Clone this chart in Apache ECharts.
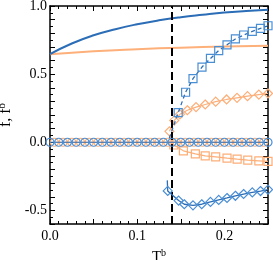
<!DOCTYPE html>
<html><head><meta charset="utf-8">
<script src="https://cdn.jsdelivr.net/npm/echarts@6/dist/echarts.min.js"></script>
<style>html,body{margin:0;padding:0;background:#fff}#c{width:273px;height:260px}</style>
</head><body><div id="c"></div>
<script>
// ---- data ----
const fX = [0, 0.025, 0.05, 0.075, 0.1, 0.125, 0.15, 0.175, 0.2, 0.225, 0.25];
const fBlue = [0.647, 0.725, 0.785, 0.83, 0.866, 0.895, 0.918, 0.936, 0.952, 0.963, 0.972];
const fOrX = [0, 0.05, 0.1, 0.15, 0.2, 0.25];
const fOrange = [0.645, 0.668, 0.683, 0.694, 0.702, 0.708];

const circBlueX = [0,0.01,0.02,0.03,0.04,0.05,0.06,0.07,0.08,0.09,0.10,0.11,0.12,0.13,0.14,0.15,0.16,0.17,0.18,0.19,0.20,0.21,0.22,0.23,0.24,0.25];
const circOrX = [0.005,0.015,0.025,0.035,0.045,0.055,0.065,0.075,0.085,0.095,0.105,0.115,0.125,0.135,0.145,0.155,0.165,0.175,0.185,0.195,0.205,0.215,0.225,0.235,0.245];

const sqBlueX = [0.1368, 0.147, 0.1555, 0.164, 0.1743, 0.184, 0.1935, 0.203, 0.2126, 0.222, 0.232, 0.2414, 0.25];
const sqBlueY = [0.03, 0.217, 0.367, 0.467, 0.552, 0.615, 0.673, 0.715, 0.758, 0.787, 0.814, 0.836, 0.855];

const diOrX = [0.137, 0.1425, 0.149, 0.1575, 0.1675, 0.178, 0.19, 0.2025, 0.2145, 0.2265, 0.2395, 0.25];
const diOrY = [0.08, 0.16, 0.205, 0.235, 0.258, 0.277, 0.298, 0.314, 0.326, 0.338, 0.35, 0.358];

const sqOrX = [0.1368, 0.142, 0.153, 0.1667, 0.178, 0.19, 0.203, 0.2146, 0.2268, 0.2395, 0.25];
const sqOrY = [0.05, -0.02, -0.063, -0.085, -0.1, -0.107, -0.117, -0.124, -0.131, -0.136, -0.14];

const diBlueX = [0.1345, 0.135, 0.1475, 0.154, 0.164, 0.174, 0.184, 0.1935, 0.203, 0.2126, 0.222, 0.232, 0.2414, 0.25];
const diBlueY = [-0.28, -0.357, -0.428, -0.455, -0.463, -0.455, -0.438, -0.423, -0.409, -0.393, -0.38, -0.368, -0.358, -0.348];

const Tc = 0.1368;
const xLabels = ['0.0', '0.1', '0.2'];
const yLabels = ['1.0', '0.5', '0.0', '-0.5'];

// ---- styles ----
const BLUE = '#2b6db6', BLUE_M = '#4a8ed3', ORANGE = '#fdb07a', ORANGE_M = '#fcae78';
const FONT = '"Liberation Serif", "DejaVu Serif", serif';

function pairs(xs, ys, noSymFirst) {
  return xs.map((x, i) => {
    const d = { value: [x, ys[i]] };
    if (noSymFirst && i === 0) d.symbol = 'none';
    return d;
  });
}
const zip = (xs, ys) => xs.map((x, i) => [x, ys[i]]);

const tickCommon = { inside: true, lineStyle: { color: '#000', width: 1 } };
const xAxisBase = {
  type: 'value', min: 0, max: 0.25, interval: 0.05,
  axisLine: { show: true, onZero: false, lineStyle: { color: '#000', width: 1.5 } },
  axisTick: Object.assign({ length: 5 }, tickCommon),
  minorTick: { show: true, splitNumber: 5, length: 3, lineStyle: { color: '#000', width: 1 } },
  splitLine: { show: false }, minorSplitLine: { show: false }
};
const yAxisBase = {
  type: 'value', min: -0.6, max: 1.0, interval: 0.1,
  axisLine: { show: true, onZero: false, lineStyle: { color: '#000', width: 1.5 } },
  axisTick: Object.assign({ length: 5 }, tickCommon),
  minorTick: { show: true, splitNumber: 2, length: 3, lineStyle: { color: '#000', width: 1 } },
  splitLine: { show: false }, minorSplitLine: { show: false }
};

function fmtX(v) {
  const k = Math.round(v * 100);
  if (k % 10 !== 0) return '';
  const s = (k / 100).toFixed(1);
  return xLabels.indexOf(s) >= 0 ? s : '';
}
function fmtY(v) {
  const k = Math.round(v * 10);
  if (k % 5 !== 0) return '';
  const s = (k / 10).toFixed(1);
  return yLabels.indexOf(s) >= 0 ? s : '';
}

const chart = echarts.init(document.getElementById('c'), null, { renderer: 'canvas' });
chart.setOption({
  animation: false,
  backgroundColor: '#fff',
  grid: { left: 50, right: 5, top: 6, bottom: 36, containLabel: false, outerBoundsMode: 'none' },
  xAxis: [
    Object.assign({}, xAxisBase, {
      position: 'bottom',
      axisLabel: { show: true, formatter: fmtX, color: '#000', fontFamily: FONT, fontSize: 14, margin: 5, showMaxLabel: false },
      name: '{a|T}{b|b}', nameLocation: 'middle', nameGap: 20,
      nameTextStyle: { rich: {
        a: { fontFamily: FONT, fontSize: 15, color: '#000' },
        b: { fontFamily: FONT, fontSize: 10, color: '#000', verticalAlign: 'top', padding: [0, 0, 8, 0] }
      } }
    }),
    Object.assign({}, xAxisBase, { position: 'top', axisLabel: { show: false } })
  ],
  yAxis: [
    Object.assign({}, yAxisBase, {
      position: 'left',
      axisLabel: { show: true, formatter: fmtY, color: '#000', fontFamily: FONT, fontSize: 14, margin: 3 },
      name: '{a|f, f}{b|b}', nameLocation: 'middle', nameGap: 29, nameRotate: 90,
      nameTextStyle: { rich: {
        a: { fontFamily: FONT, fontSize: 16, color: '#000' },
        b: { fontFamily: FONT, fontSize: 11, color: '#000', verticalAlign: 'top', padding: [0, 0, 8, 0] }
      } }
    }),
    Object.assign({}, yAxisBase, { position: 'right', axisLabel: { show: false } })
  ],
  series: [
    { type: 'line', data: zip(fX, fBlue), smooth: true, symbol: 'none',
      lineStyle: { color: BLUE, width: 2 }, itemStyle: { color: BLUE }, z: 3 },
    { type: 'line', data: zip(fOrX, fOrange), smooth: true, symbol: 'none',
      lineStyle: { color: ORANGE, width: 2 }, itemStyle: { color: ORANGE }, z: 2 },
    { type: 'line', data: circOrX.map(x => [x, 0]), symbol: 'circle', symbolSize: 8,
      lineStyle: { color: ORANGE, width: 1 },
      itemStyle: { color: 'rgba(0,0,0,0)', borderColor: ORANGE_M, borderWidth: 1.2 }, z: 4 },
    { type: 'line', data: circBlueX.map(x => [x, 0]), symbol: 'circle', symbolSize: 8,
      lineStyle: { color: BLUE, width: 1.2 },
      itemStyle: { color: 'rgba(0,0,0,0)', borderColor: BLUE_M, borderWidth: 1.2 }, z: 5 },
    { type: 'line', data: pairs(diOrX, diOrY, false), symbol: 'diamond', symbolSize: [9, 9],
      lineStyle: { color: ORANGE, width: 1.2 },
      itemStyle: { color: 'rgba(0,0,0,0)', borderColor: ORANGE_M, borderWidth: 1.2 }, z: 4 },
    { type: 'line', data: pairs(sqOrX, sqOrY, true), symbol: 'rect', symbolSize: 8,
      lineStyle: { color: ORANGE, width: 1.2 },
      itemStyle: { color: 'rgba(0,0,0,0)', borderColor: ORANGE_M, borderWidth: 1.2 }, z: 4 },
    { type: 'line', data: pairs(sqBlueX, sqBlueY, true), symbol: 'rect', symbolSize: 8,
      lineStyle: { color: BLUE, width: 1.3, type: [4, 3] },
      itemStyle: { color: 'rgba(0,0,0,0)', borderColor: BLUE_M, borderWidth: 1.2 }, z: 5 },
    { type: 'line', data: pairs(diBlueX, diBlueY, true), symbol: 'diamond', symbolSize: [9, 9],
      lineStyle: { color: BLUE, width: 1.3 },
      itemStyle: { color: 'rgba(0,0,0,0)', borderColor: BLUE_M, borderWidth: 1.2 }, z: 5 },
    { type: 'line', data: [], z: 10,
      markLine: { silent: true, symbol: 'none', label: { show: false },
        lineStyle: { color: '#000', width: 2, type: [8, 4] },
        data: [{ xAxis: Tc }] } }
  ]
});
</script></body></html>
